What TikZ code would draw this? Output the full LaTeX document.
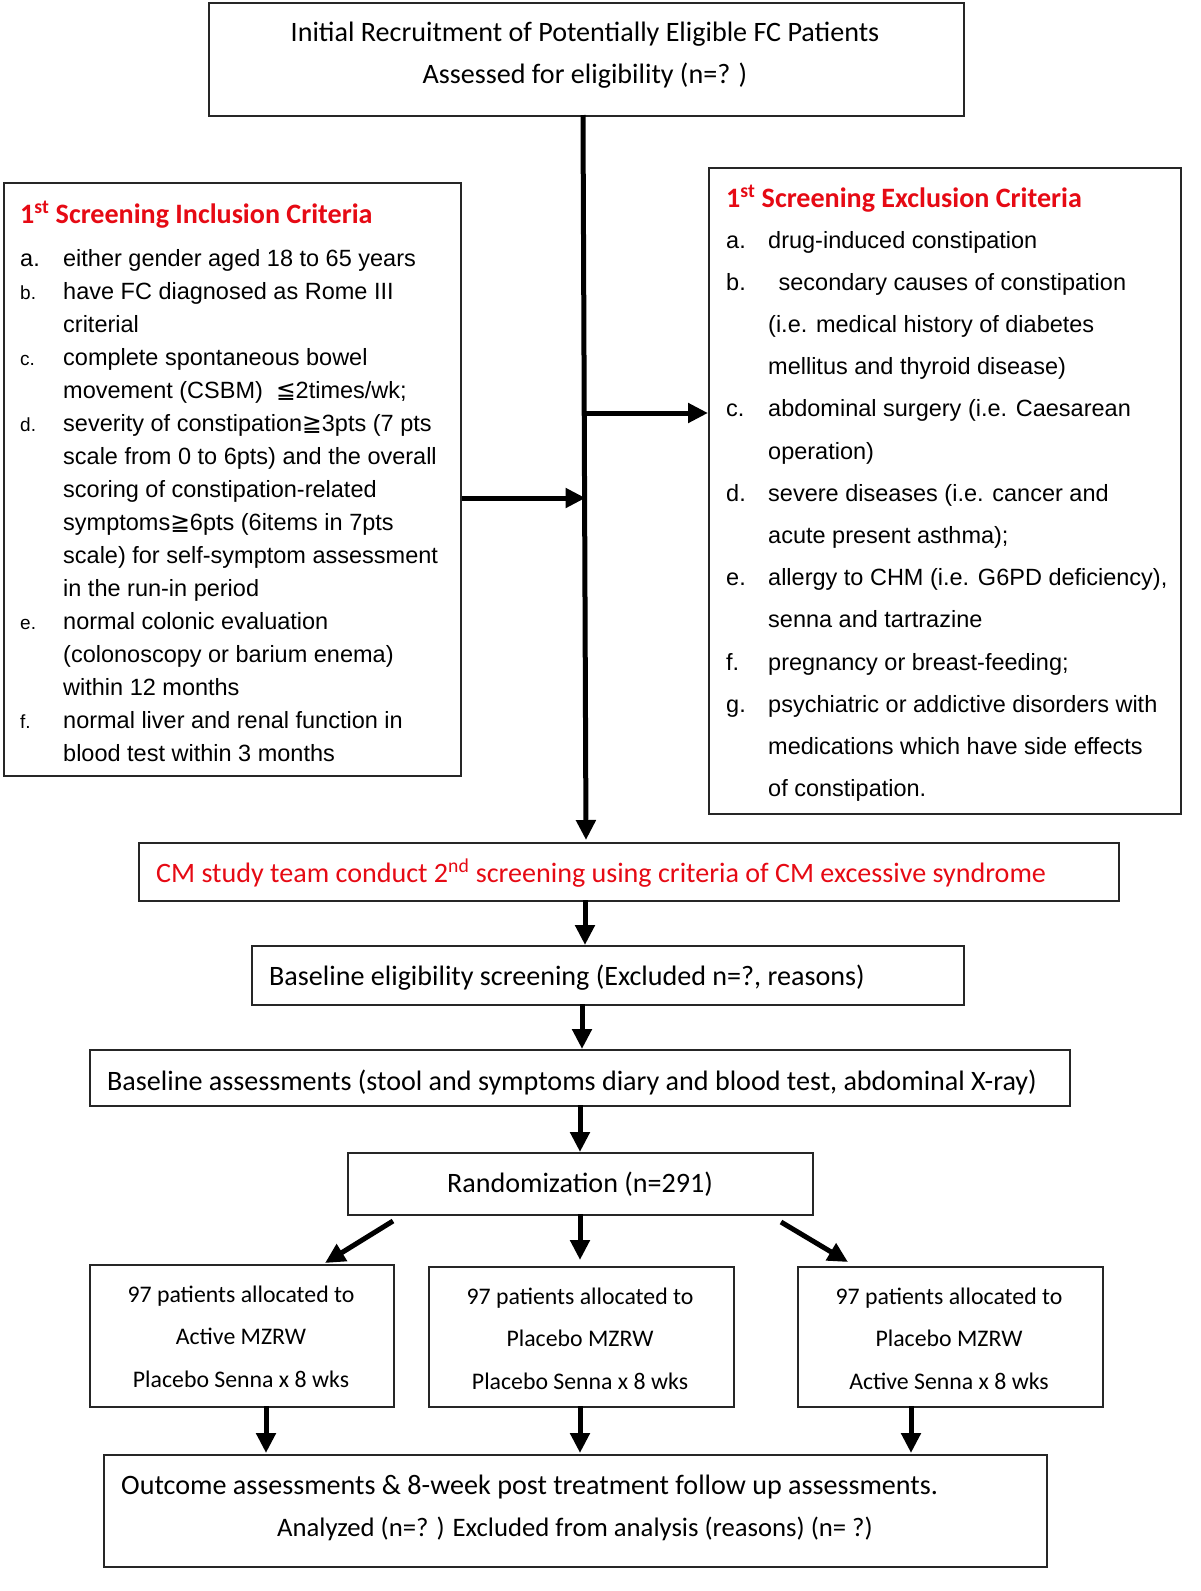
\documentclass[tikz,border=0pt]{standalone}
\usepackage{fontspec}
\setmainfont{Carlito}
\newfontfamily\arial{Liberation Sans}
\newfontfamily\dejavu{DejaVu Sans}
\usetikzlibrary{arrows.meta}
\definecolor{hred}{RGB}{230,10,20}
\begin{document}
\begin{tikzpicture}[x=1pt,y=-1pt,
  box/.style={draw=black!85, line width=1.8pt, anchor=north west, inner sep=0pt},
  txt/.style={inner sep=0pt, font=\fontsize{28.1}{42}\selectfont},
  lst/.style={inner sep=0pt, anchor=base west, font=\arial\fontsize{23.5}{33}\selectfont},
  hdr/.style={inner sep=0pt, anchor=base west, text=hred, font=\bfseries\fontsize{28.1}{30}\selectfont},
  lbl/.style={font=\arial\fontsize{19}{33}\selectfont},
  arr/.style={line width=5pt, -{Triangle[length=20pt,width=19pt]}}]
\useasboundingbox (0,0) rectangle (1200,1591);
\fill[white] (0,0) rectangle (1200,1591);

% top box
\node[box, minimum width=755pt, minimum height=113pt] (top) at (208,2) {};
\node[txt, anchor=base] (toptxt) at (585,41) {\begin{tabular}[t]{@{}c@{}}Initial Recruitment of Potentially Eligible FC Patients\\Assessed for eligibility (n=? )\end{tabular}};

% inclusion box
\node[box, minimum width=457pt, minimum height=593pt] (inc) at (3,182) {};
\node[hdr] (inchdr) at (20,223) {1\textsuperscript{st} Screening Inclusion Criteria};
\node[lst] (inclist) at (20,266) {\begin{tabular}[t]{@{}p{43pt}@{}l@{}}
a. & either gender aged 18 to 65 years\\
{\fontsize{19}{33}\selectfont b.} & have FC diagnosed as Rome III\\
 & criterial\\
{\fontsize{19}{33}\selectfont c.} & complete spontaneous bowel\\
 & movement (CSBM) \ {\dejavu ≦}2times/wk;\\
{\fontsize{19}{33}\selectfont d.} & severity of constipation{\dejavu ≧}3pts (7 pts\\
 & scale from 0 to 6pts) and the overall\\
 & scoring of constipation-related\\
 & symptoms{\dejavu ≧}6pts (6items in 7pts\\
 & scale) for self-symptom assessment\\
 & in the run-in period\\
{\fontsize{19}{33}\selectfont e.} & normal colonic evaluation\\
 & (colonoscopy or barium enema)\\
 & within 12 months\\
{\fontsize{19}{33}\selectfont f.} & normal liver and renal function in\\
 & blood test within 3 months
\end{tabular}};

% exclusion box
\node[box, minimum width=472pt, minimum height=646pt] (exc) at (708,167) {};
\node[hdr] (exchdr) at (726,207) {1\textsuperscript{st} Screening Exclusion Criteria};
\node[lst, font=\arial\fontsize{23.5}{42.2}\selectfont] (exclist) at (726,248) {\begin{tabular}[t]{@{}p{42pt}@{}l@{}}
a. & drug-induced constipation\\
b. & \ \,secondary causes of constipation\\
 & (i.e. medical history of diabetes\\
 & mellitus and thyroid disease)\\
c. & abdominal surgery (i.e. Caesarean\\
 & operation)\\
d. & severe diseases (i.e. cancer and\\
 & acute present asthma);\\
e. & allergy to CHM (i.e. G6PD deficiency),\\
 & senna and tartrazine\\
f. & pregnancy or breast-feeding;\\
g. & psychiatric or addictive disorders with\\
 & medications which have side effects\\
 & of constipation.
\end{tabular}};

% CM box
\node[box, minimum width=980pt, minimum height=58pt] (cm) at (138,842) {};
\node[txt, anchor=base west, text=hred] (cmtxt) at (156,882) {CM study team conduct 2\textsuperscript{nd} screening using criteria of CM excessive syndrome};

% baseline eligibility
\node[box, minimum width=712pt, minimum height=59pt] (elig) at (251,945) {};
\node[txt, anchor=base west] (eligtxt) at (269,985) {Baseline eligibility screening (Excluded n=?, reasons)};

% baseline assessments
\node[box, minimum width=980pt, minimum height=56pt] (bass) at (89,1049) {};
\node[txt, anchor=base west] (basstxt) at (107,1090) {Baseline assessments (stool and symptoms diary and blood test, abdominal X-ray)};

% randomization
\node[box, minimum width=465pt, minimum height=62pt] (rand) at (347,1152) {};
\node[txt, anchor=base] (randtxt) at (580,1192) {Randomization (n=291)};

% three arms
\node[box, minimum width=304pt, minimum height=142pt] (g1) at (89,1264) {};
\node[box, minimum width=305pt, minimum height=140pt] (g2) at (428,1266) {};
\node[box, minimum width=305pt, minimum height=140pt] (g3) at (797,1266) {};
\tikzset{armtxt/.style={inner sep=0pt, anchor=base, font=\fontsize{23.8}{42.5}\selectfont}}
\node[armtxt] (g1txt) at (241,1302) {\begin{tabular}[t]{@{}c@{}}97 patients allocated to\\Active MZRW\\Placebo Senna x 8 wks\end{tabular}};
\node[armtxt] (g2txt) at (580,1304) {\begin{tabular}[t]{@{}c@{}}97 patients allocated to\\Placebo MZRW\\Placebo Senna x 8 wks\end{tabular}};
\node[armtxt] (g3txt) at (949,1304) {\begin{tabular}[t]{@{}c@{}}97 patients allocated to\\Placebo MZRW\\Active Senna x 8 wks\end{tabular}};

% outcome
\node[box, minimum width=943pt, minimum height=112pt] (out) at (103,1454) {};
\node[txt, anchor=base west] (outtxt1) at (121,1494) {Outcome assessments \& 8-week post treatment follow up assessments.};
\node[txt, anchor=base, font=\fontsize{26.7}{42}\selectfont] (outtxt2) at (575,1536) {Analyzed (n=? ) Excluded from analysis (reasons) (n= ?)};

% connectors
\coordinate (tb) at (583,115);
\coordinate (cmt) at (586,840);
\coordinate (ja) at (584.5,413);
\coordinate (jb) at (585.5,498);
\draw[arr] (tb) -- (cmt);
\draw[arr] (inc.east |- jb) -- (jb);
\draw[arr] (ja) -- (exc.west |- ja);
\draw[arr] (585,900) -- (585,945);
\draw[arr] (582,1004) -- (582,1049);
\draw[arr] (580,1105) -- (580,1152);
\coordinate (r1) at (393,1221);
\coordinate (r3) at (781,1222);
\draw[arr] (r1) -- (325,1263);
\draw[arr] (580,1214) -- (580,1260);
\draw[arr] (r3) -- (848,1262);
\draw[arr] (266,1406) -- (266,1453);
\draw[arr] (580,1406) -- (580,1453);
\draw[arr] (911,1406) -- (911,1453);
\end{tikzpicture}
\end{document}
